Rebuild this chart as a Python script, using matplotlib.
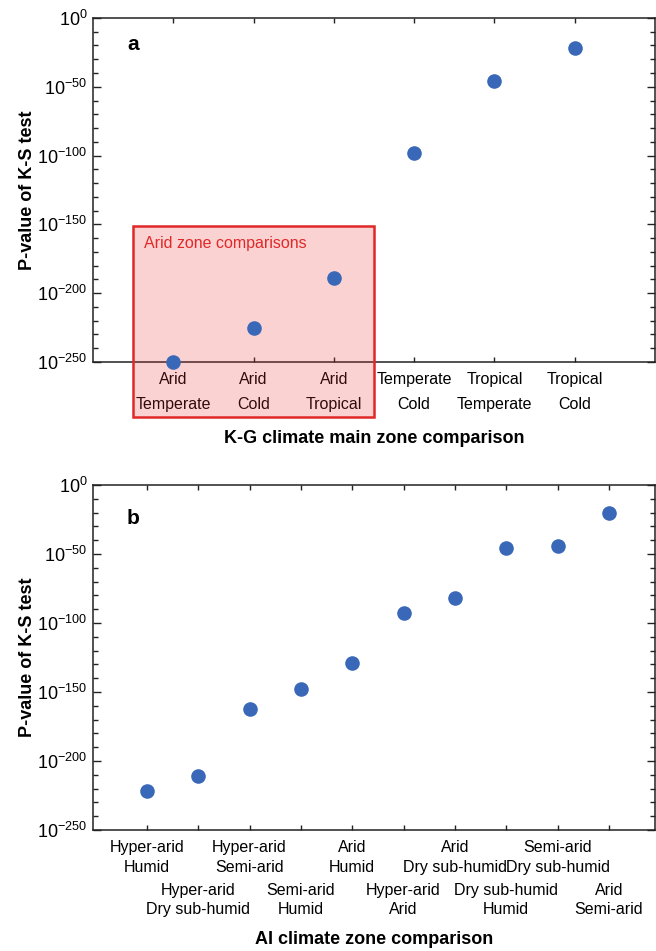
import numpy as np
import matplotlib
matplotlib.use('Agg')
import matplotlib.pyplot as plt
import matplotlib.transforms as mtransforms
from matplotlib.patches import Rectangle
from matplotlib.ticker import FixedLocator, NullFormatter, FuncFormatter

plt.rcParams['font.family'] = 'Liberation Sans'
plt.rcParams['mathtext.fontset'] = 'custom'
plt.rcParams['mathtext.rm'] = 'Liberation Sans'
plt.rcParams['mathtext.it'] = 'Liberation Sans:italic'
plt.rcParams['mathtext.bf'] = 'Liberation Sans:bold'

# panel a: K-G main climate zones
kg_labels = ['Arid\nTemperate', 'Arid\nCold', 'Arid\nTropical',
             'Temperate\nCold', 'Tropical\nTemperate', 'Tropical\nCold']
kg_pvalues = [1e-250, 1e-225, 1e-189, 1e-98, 1e-46, 1e-22]

# panel b: aridity index zones
ai_labels = ['Hyper-arid\nHumid', 'Hyper-arid\nDry sub-humid', 'Hyper-arid\nSemi-arid',
             'Semi-arid\nHumid', 'Arid\nHumid', 'Hyper-arid\nArid',
             'Arid\nDry sub-humid', 'Dry sub-humid\nHumid', 'Semi-arid\nDry sub-humid',
             'Arid\nSemi-arid']
ai_pvalues = [1e-222, 1e-211, 1e-162, 1e-148, 1e-129, 1e-93, 1e-82, 1e-46, 1e-44, 1e-20]

major_exp = list(range(-250, 1, 50))
minor_exp = list(range(-250, 1, 10))

dot_color = '#3a68b8'
spine_color = '#222222'
fs = 11.5


def style_axes(ax):
    ax.set_yscale('log')
    ax.set_ylim(1e-250, 1)
    ax.yaxis.set_major_locator(FixedLocator([10.0 ** k for k in major_exp]))
    ax.yaxis.set_minor_locator(FixedLocator([10.0 ** k for k in minor_exp]))
    ax.yaxis.set_major_formatter(FuncFormatter(lambda v, pos: r'$\mathdefault{10^{%d}}$' % round(np.log10(v))))
    ax.yaxis.set_minor_formatter(NullFormatter())
    for s in ax.spines.values():
        s.set_color(spine_color)
        s.set_linewidth(1.1)
    ax.tick_params(axis='y', which='major', direction='in', length=6, width=1.0,
                   left=True, right=True, labelsize=13, pad=4, color=spine_color)
    ax.tick_params(axis='y', which='minor', direction='in', length=3.5, width=1.0,
                   left=True, right=True, color=spine_color)
    ax.tick_params(axis='x', which='both', direction='in', length=3.5, width=1.0,
                   top=True, bottom=True, labelsize=fs, color=spine_color)
    ax.set_ylabel('P-value of K-S test', fontsize=13, fontweight='bold')
    ax.yaxis.set_label_coords(-0.102, 0.5)


fig = plt.figure(figsize=(6.56, 9.51), dpi=100)

# ---- panel a
ax1 = fig.add_axes([0.1418, 0.6194, 0.8567, 0.3617])
xa = np.arange(1, len(kg_pvalues) + 1)
ax1.plot(xa, kg_pvalues, 'o', color=dot_color, ms=10.5, mec='none', clip_on=False, zorder=4)
ax1.set_xlim(0, 7)
style_axes(ax1)
ax1.set_xticks(xa)
ax1.set_xticklabels(kg_labels, linespacing=1.85)
ax1.tick_params(axis='x', which='major', pad=7)
ax1.set_xlabel('K-G climate main zone comparison', fontsize=13, fontweight='bold')
ax1.xaxis.set_label_coords(0.5, -0.197)
ax1.text(0.071, 0.924, 'a', transform=ax1.transAxes, fontsize=15, fontweight='bold',
         ha='center', va='center')

# arid zone highlight box
trans = mtransforms.blended_transform_factory(ax1.transData, ax1.transAxes)
box = Rectangle((0.5, -0.160), 3.0, 0.555, transform=trans, clip_on=False,
                facecolor=(0.92, 0.2, 0.2, 0.22), edgecolor='#e02828', lw=1.8, zorder=3)
ax1.add_patch(box)
ax1.text(0.63, 0.345, 'Arid zone comparisons', transform=trans, color='#e02828',
         fontsize=fs, ha='left', va='center')

# ---- panel b
ax2 = fig.add_axes([0.1418, 0.1272, 0.8567, 0.3628])
xb = np.arange(1, len(ai_pvalues) + 1)
ax2.plot(xb, ai_pvalues, 'o', color=dot_color, ms=10.5, mec='none', clip_on=False, zorder=4)
ax2.set_xlim(-0.05, 10.9)
style_axes(ax2)
ax2.xaxis.set_major_locator(FixedLocator(xb[0::2]))
ax2.xaxis.set_minor_locator(FixedLocator(xb[1::2]))
ax2.set_xticklabels(ai_labels[0::2], linespacing=1.34)
ax2.set_xticklabels(ai_labels[1::2], minor=True, linespacing=1.34)
ax2.tick_params(axis='x', which='major', pad=7.5)
ax2.tick_params(axis='x', which='minor', pad=38, labelsize=fs)
ax2.set_xlabel('AI climate zone comparison', fontsize=13, fontweight='bold')
ax2.xaxis.set_label_coords(0.5, -0.293)
ax2.text(0.071, 0.904, 'b', transform=ax2.transAxes, fontsize=15, fontweight='bold',
         ha='center', va='center')

fig.savefig('out.png', dpi=100)
